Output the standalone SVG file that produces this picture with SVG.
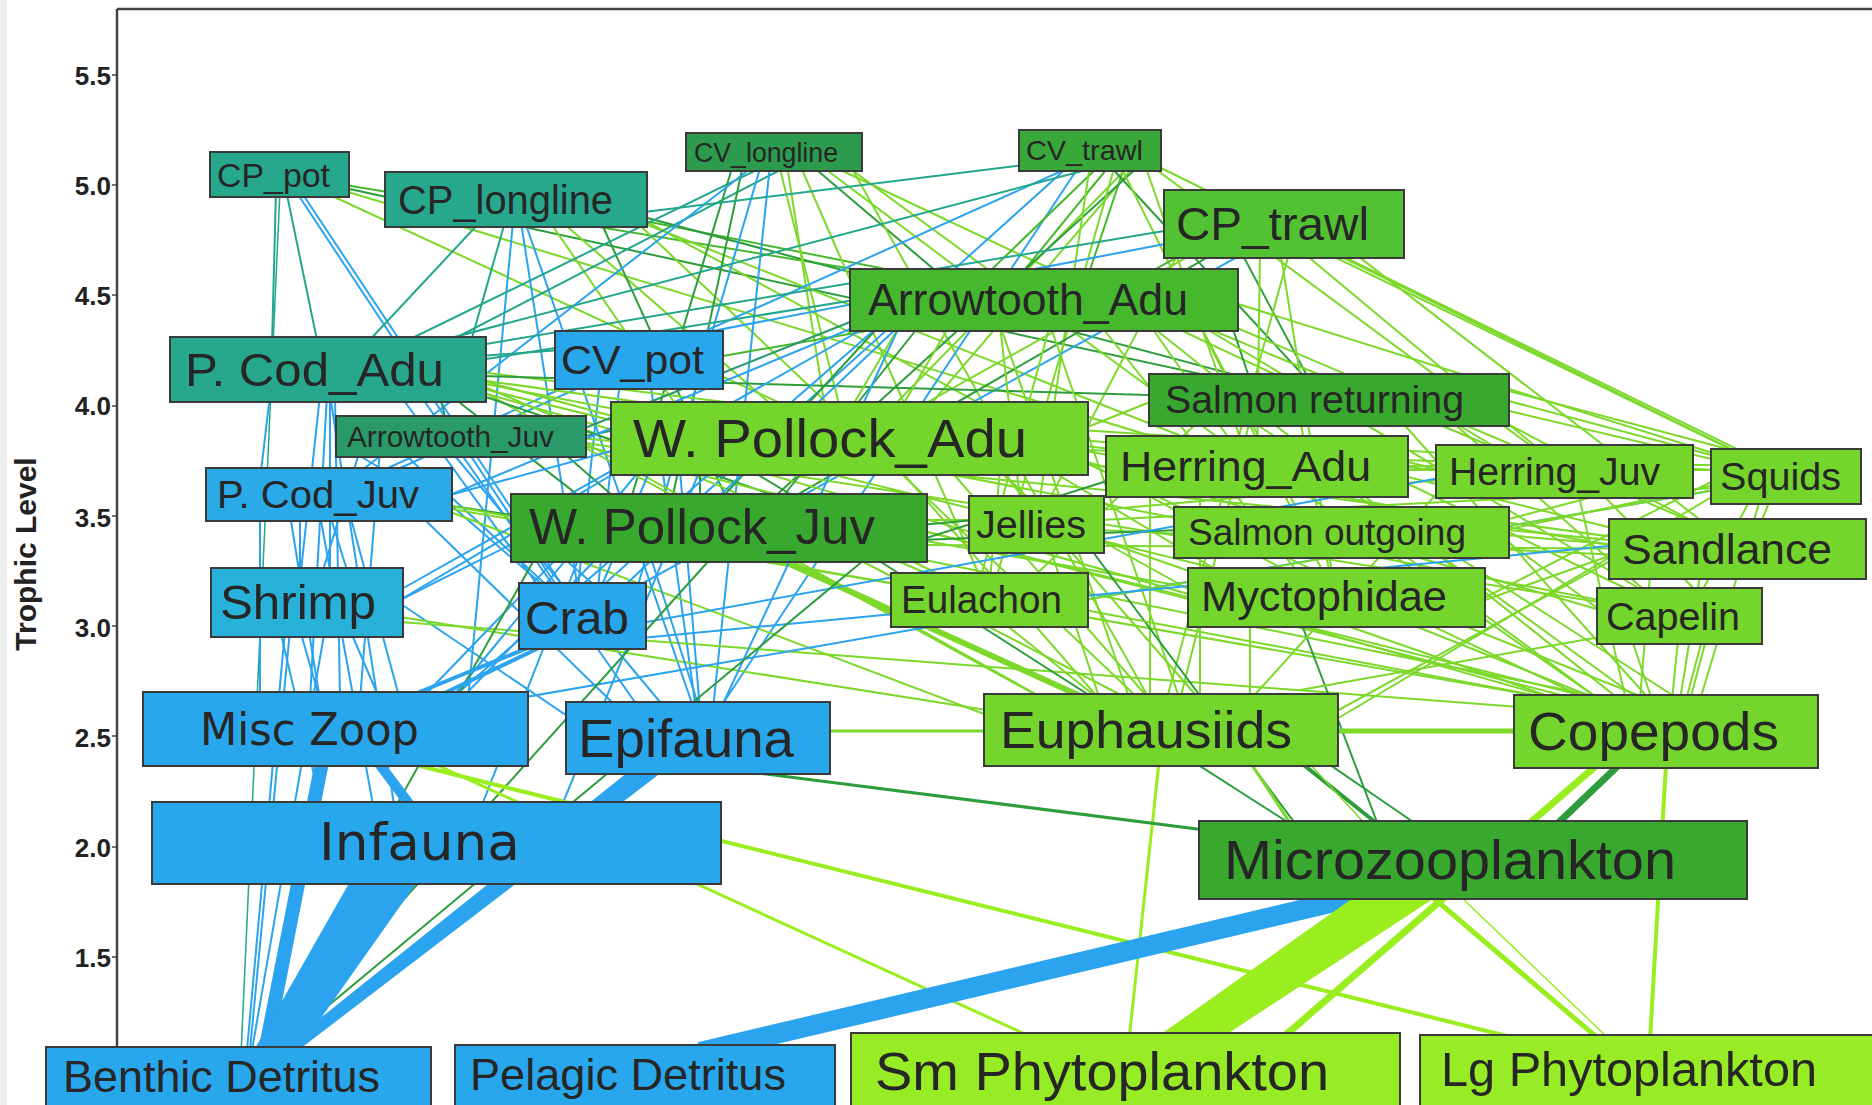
<svg xmlns="http://www.w3.org/2000/svg" width="1872" height="1105" viewBox="0 0 1872 1105">
<style>
.b{stroke:#2ba3ee}.t{stroke:#22a68c}.a{stroke:#2a9a6c}.d{stroke:#2d9d3c}.m{stroke:#46b82c}.l{stroke:#7cd82a}.y{stroke:#9aee20}
.n rect{stroke:#3a3a3a;stroke-width:2}
.n text{font-family:"Liberation Sans",Arial,sans-serif;fill:#262626}
.c-teal{fill:#27a88c}.c-atj{fill:#2a9a6b}.c-cvl{fill:#2d9b4e}.c-cvt{fill:#38a83a}.c-blue{fill:#29a7ec}.c-shr{fill:#28b2da}.c-pcj{fill:#2aabe7}.c-dg{fill:#38a82f}.c-ata{fill:#45b82e}.c-cpt{fill:#52c232}.c-lg{fill:#74d52c}.c-phy{fill:#98ec26}
.tick{font-family:"Liberation Sans",Arial,sans-serif;font-weight:bold;font-size:26px;fill:#222;text-anchor:end}
</style>
<rect x="0" y="0" width="1872" height="1105" fill="#ffffff"/>
<rect x="0" y="0" width="7" height="1105" fill="#eeeeee"/>
<g id="axes" stroke="#444" stroke-width="2.5" fill="none">
<line x1="117" y1="9" x2="1872" y2="9"/>
<line x1="117" y1="9" x2="117" y2="1047"/>
<path d="M112 75H117M112 185H117M112 295H117M112 406H117M112 516H117M112 626H117M112 736H117M112 847H117M112 957H117" stroke-width="1.5"/>
</g>
<g id="tick-labels">
<text class="tick" x="111" y="85">5.5</text>
<text class="tick" x="111" y="195">5.0</text>
<text class="tick" x="111" y="305">4.5</text>
<text class="tick" x="111" y="415">4.0</text>
<text class="tick" x="111" y="527">3.5</text>
<text class="tick" x="111" y="637">3.0</text>
<text class="tick" x="111" y="747">2.5</text>
<text class="tick" x="111" y="857">2.0</text>
<text class="tick" x="111" y="967">1.5</text>
<text transform="translate(36,554) rotate(-90)" text-anchor="middle" font-family="Liberation Sans,Arial,sans-serif" font-weight="bold" font-size="30" fill="#222">Trophic Level</text>
</g>
<g id="connectors" fill="none" stroke-width="2">
<line class="t" x1="276" y1="190" x2="272" y2="345"/>
<line class="t" x1="286" y1="190" x2="318" y2="345"/>
<line class="b" x1="295" y1="190" x2="566" y2="600"/>
<line class="b" x1="300" y1="190" x2="572" y2="600"/>
<line class="l" x1="330" y1="195" x2="860" y2="440"/>
<line class="m" x1="345" y1="185" x2="1040" y2="300"/>
<line class="d" x1="345" y1="188" x2="1320" y2="400"/>
<line class="l" x1="345" y1="191" x2="1250" y2="466"/>
<line class="t" x1="280" y1="190" x2="241" y2="1055" stroke-width="1.5"/>
<line class="t" x1="480" y1="222" x2="365" y2="345"/>
<line class="t" x1="505" y1="222" x2="470" y2="345"/>
<line class="b" x1="513" y1="222" x2="468" y2="700"/>
<line class="b" x1="521" y1="222" x2="582" y2="616"/>
<line class="b" x1="525" y1="222" x2="704" y2="738"/>
<line class="l" x1="550" y1="222" x2="700" y2="440"/>
<line class="l" x1="562" y1="222" x2="812" y2="440"/>
<line class="m" x1="600" y1="212" x2="1040" y2="300"/>
<line class="d" x1="610" y1="208" x2="1329" y2="400"/>
<line class="l" x1="620" y1="214" x2="1257" y2="466"/>
<line class="d" x1="600" y1="220" x2="740" y2="528"/>
<line class="l" x1="640" y1="218" x2="1336" y2="598"/>
<line class="l" x1="630" y1="216" x2="1161" y2="720"/>
<line class="t" x1="767" y1="165" x2="398" y2="345"/>
<line class="t" x1="790" y1="165" x2="442" y2="345"/>
<line class="d" x1="733" y1="165" x2="622" y2="528"/>
<line class="d" x1="743" y1="165" x2="666" y2="528"/>
<line class="b" x1="761" y1="165" x2="629" y2="616"/>
<line class="b" x1="770" y1="165" x2="710" y2="738"/>
<line class="l" x1="779" y1="165" x2="848" y2="440"/>
<line class="l" x1="787" y1="165" x2="830" y2="440"/>
<line class="d" x1="811" y1="165" x2="970" y2="300"/>
<line class="l" x1="820" y1="165" x2="1000" y2="300"/>
<line class="l" x1="830" y1="165" x2="1329" y2="400"/>
<line class="l" x1="845" y1="165" x2="1257" y2="466"/>
<line class="b" x1="755" y1="165" x2="330" y2="495"/>
<line class="l" x1="800" y1="165" x2="990" y2="600"/>
<line class="l" x1="850" y1="165" x2="1161" y2="720"/>
<line class="t" x1="1025" y1="165" x2="620" y2="215"/>
<line class="b" x1="1070" y1="165" x2="569" y2="616"/>
<line class="b" x1="1075" y1="165" x2="340" y2="495"/>
<line class="b" x1="1080" y1="165" x2="700" y2="738"/>
<line class="m" x1="1100" y1="165" x2="960" y2="300"/>
<line class="m" x1="1110" y1="165" x2="1000" y2="300"/>
<line class="m" x1="1125" y1="165" x2="1080" y2="300"/>
<line class="l" x1="1130" y1="165" x2="860" y2="440"/>
<line class="l" x1="1135" y1="165" x2="900" y2="440"/>
<line class="d" x1="1140" y1="165" x2="740" y2="528"/>
<line class="l" x1="1145" y1="165" x2="1250" y2="466"/>
<line class="d" x1="1109" y1="165" x2="1326" y2="400"/>
<line class="l" x1="1150" y1="165" x2="1565" y2="471"/>
<line class="l" x1="1155" y1="165" x2="1786" y2="476"/>
<line class="l" x1="1120" y1="165" x2="1336" y2="598"/>
<line class="l" x1="1115" y1="165" x2="990" y2="600"/>
<line class="t" x1="1105" y1="165" x2="330" y2="370"/>
<line class="l" x1="1090" y1="165" x2="1036" y2="525"/>
<line class="m" x1="1190" y1="250" x2="1100" y2="300"/>
<line class="l" x1="1200" y1="250" x2="860" y2="440"/>
<line class="d" x1="1220" y1="250" x2="740" y2="528"/>
<line class="d" x1="1240" y1="250" x2="1320" y2="400"/>
<line class="l" x1="1260" y1="250" x2="1257" y2="466"/>
<line class="l" x1="1280" y1="250" x2="1336" y2="598"/>
<line class="l" x1="1300" y1="250" x2="1565" y2="471"/>
<line class="l" x1="1320" y1="250" x2="1786" y2="476"/>
<line class="l" x1="1330" y1="250" x2="1800" y2="480"/>
<line class="b" x1="1170" y1="243" x2="640" y2="345"/>
<line class="l" x1="1180" y1="250" x2="1036" y2="525"/>
<line class="l" x1="1290" y1="250" x2="1161" y2="720"/>
<line class="l" x1="1350" y1="250" x2="1738" y2="549"/>
<line class="b" x1="1250" y1="250" x2="583" y2="616"/>
<line class="t" x1="1170" y1="230" x2="330" y2="370"/>
<line class="t" x1="560" y1="350" x2="480" y2="356"/>
<line class="b" x1="600" y1="380" x2="575" y2="616"/>
<line class="b" x1="620" y1="380" x2="595" y2="616"/>
<line class="b" x1="580" y1="380" x2="329" y2="495"/>
<line class="b" x1="650" y1="380" x2="700" y2="738"/>
<line class="m" x1="700" y1="360" x2="1044" y2="300"/>
<line class="b" x1="270" y1="395" x2="260" y2="480"/>
<line class="b" x1="320" y1="395" x2="300" y2="580"/>
<line class="b" x1="330" y1="395" x2="330" y2="580"/>
<line class="b" x1="400" y1="395" x2="560" y2="616"/>
<line class="b" x1="327" y1="395" x2="310" y2="700"/>
<line class="b" x1="335" y1="395" x2="340" y2="700"/>
<line class="b" x1="420" y1="395" x2="660" y2="738"/>
<line class="d" x1="450" y1="395" x2="620" y2="528"/>
<line class="l" x1="480" y1="380" x2="700" y2="440"/>
<line class="a" x1="440" y1="395" x2="450" y2="440"/>
<line class="b" x1="330" y1="395" x2="400" y2="843"/>
<line class="l" x1="480" y1="390" x2="1100" y2="730"/>
<line class="l" x1="480" y1="372" x2="1250" y2="466"/>
<line class="d" x1="480" y1="376" x2="1329" y2="400"/>
<line class="l" x1="480" y1="385" x2="990" y2="600"/>
<line class="l" x1="480" y1="388" x2="1336" y2="598"/>
<line class="l" x1="480" y1="383" x2="1650" y2="610"/>
<line class="l" x1="480" y1="380" x2="1700" y2="549"/>
<line class="d" x1="480" y1="395" x2="870" y2="528"/>
<line class="l" x1="480" y1="392" x2="1560" y2="700"/>
<line class="b" x1="360" y1="450" x2="320" y2="580"/>
<line class="b" x1="380" y1="450" x2="360" y2="700"/>
<line class="b" x1="400" y1="450" x2="580" y2="616"/>
<line class="l" x1="580" y1="440" x2="1100" y2="730"/>
<line class="d" x1="560" y1="450" x2="650" y2="528"/>
<line class="b" x1="350" y1="450" x2="400" y2="480"/>
<line class="l" x1="580" y1="445" x2="1600" y2="700"/>
<line class="l" x1="580" y1="442" x2="1650" y2="610"/>
<line class="l" x1="580" y1="438" x2="1700" y2="549"/>
<line class="b" x1="450" y1="450" x2="690" y2="738"/>
<line class="b" x1="300" y1="515" x2="300" y2="580"/>
<line class="b" x1="330" y1="515" x2="350" y2="580"/>
<line class="b" x1="260" y1="515" x2="260" y2="700"/>
<line class="b" x1="290" y1="515" x2="320" y2="700"/>
<line class="b" x1="350" y1="515" x2="400" y2="700"/>
<line class="b" x1="420" y1="515" x2="620" y2="710"/>
<line class="b" x1="445" y1="500" x2="560" y2="600"/>
<line class="l" x1="445" y1="510" x2="1000" y2="720"/>
<line class="b" x1="320" y1="515" x2="380" y2="843"/>
<line class="d" x1="445" y1="505" x2="600" y2="528"/>
<line class="l" x1="445" y1="505" x2="1560" y2="700"/>
<line class="l" x1="445" y1="508" x2="990" y2="600"/>
<line class="b" x1="260" y1="630" x2="260" y2="700"/>
<line class="b" x1="300" y1="630" x2="320" y2="700"/>
<line class="b" x1="350" y1="630" x2="380" y2="700"/>
<line class="b" x1="280" y1="630" x2="330" y2="843"/>
<line class="b" x1="290" y1="630" x2="250" y2="1050"/>
<line class="b" x1="395" y1="600" x2="600" y2="738"/>
<line class="l" x1="400" y1="617" x2="1050" y2="720"/>
<line class="l" x1="400" y1="622" x2="1560" y2="710"/>
<line class="l" x1="770" y1="555" x2="1100" y2="705" stroke-width="6"/>
<line class="l" x1="850" y1="555" x2="1150" y2="710"/>
<line class="l" x1="920" y1="530" x2="1600" y2="705"/>
<line class="l" x1="900" y1="555" x2="1640" y2="705"/>
<line class="b" x1="560" y1="555" x2="420" y2="700"/>
<line class="b" x1="600" y1="555" x2="460" y2="700"/>
<line class="b" x1="650" y1="555" x2="700" y2="710"/>
<line class="b" x1="560" y1="555" x2="600" y2="590"/>
<line class="b" x1="580" y1="555" x2="480" y2="810"/>
<line class="b" x1="520" y1="540" x2="400" y2="600"/>
<line class="l" x1="920" y1="520" x2="975" y2="520"/>
<line class="l" x1="900" y1="555" x2="950" y2="580"/>
<line class="l" x1="920" y1="540" x2="1250" y2="598"/>
<line class="l" x1="920" y1="545" x2="1700" y2="549"/>
<line class="d" x1="870" y1="555" x2="1300" y2="830"/>
<line class="d" x1="700" y1="470" x2="700" y2="500"/>
<line class="d" x1="750" y1="470" x2="800" y2="500"/>
<line class="l" x1="900" y1="470" x2="1100" y2="700"/>
<line class="l" x1="950" y1="470" x2="1150" y2="700"/>
<line class="l" x1="1000" y1="470" x2="1200" y2="700"/>
<line class="l" x1="1080" y1="460" x2="1600" y2="705"/>
<line class="b" x1="650" y1="470" x2="600" y2="590"/>
<line class="b" x1="620" y1="470" x2="400" y2="600"/>
<line class="b" x1="640" y1="470" x2="450" y2="700"/>
<line class="b" x1="680" y1="470" x2="700" y2="710"/>
<line class="b" x1="615" y1="450" x2="450" y2="495"/>
<line class="a" x1="615" y1="430" x2="580" y2="437"/>
<line class="l" x1="1050" y1="470" x2="1250" y2="590"/>
<line class="l" x1="1080" y1="440" x2="1440" y2="470"/>
<line class="l" x1="1080" y1="460" x2="1600" y2="610"/>
<line class="l" x1="1000" y1="470" x2="990" y2="580"/>
<line class="l" x1="1000" y1="470" x2="1030" y2="500"/>
<line class="l" x1="1080" y1="430" x2="1711" y2="470"/>
<line class="l" x1="1080" y1="450" x2="1609" y2="545"/>
<line class="b" x1="700" y1="470" x2="560" y2="810"/>
<line class="l" x1="900" y1="325" x2="850" y2="410"/>
<line class="l" x1="950" y1="325" x2="900" y2="410"/>
<line class="d" x1="880" y1="325" x2="720" y2="500"/>
<line class="d" x1="920" y1="325" x2="780" y2="500"/>
<line class="t" x1="855" y1="300" x2="480" y2="360"/>
<line class="b" x1="860" y1="325" x2="450" y2="495"/>
<line class="a" x1="855" y1="320" x2="580" y2="430"/>
<line class="b" x1="900" y1="325" x2="620" y2="590"/>
<line class="b" x1="870" y1="325" x2="400" y2="590"/>
<line class="l" x1="1000" y1="325" x2="1130" y2="700"/>
<line class="l" x1="1050" y1="325" x2="1180" y2="700"/>
<line class="l" x1="1200" y1="325" x2="1500" y2="450"/>
<line class="l" x1="1150" y1="325" x2="1230" y2="440"/>
<line class="d" x1="1230" y1="320" x2="1250" y2="380"/>
<line class="l" x1="1200" y1="325" x2="1300" y2="515"/>
<line class="l" x1="1050" y1="325" x2="980" y2="580"/>
<line class="l" x1="1100" y1="325" x2="1300" y2="575"/>
<line class="l" x1="1235" y1="303" x2="1786" y2="476"/>
<line class="l" x1="1200" y1="325" x2="1650" y2="595"/>
<line class="l" x1="1230" y1="325" x2="1700" y2="525"/>
<line class="l" x1="1000" y1="325" x2="1020" y2="500"/>
<line class="l" x1="1150" y1="325" x2="1620" y2="700"/>
<line class="b" x1="880" y1="325" x2="450" y2="700"/>
<line class="b" x1="900" y1="325" x2="720" y2="710"/>
<line class="l" x1="1250" y1="420" x2="1280" y2="440"/>
<line class="l" x1="1450" y1="420" x2="1500" y2="450"/>
<line class="l" x1="1505" y1="390" x2="1750" y2="455"/>
<line class="l" x1="1505" y1="400" x2="1730" y2="460"/>
<line class="l" x1="1250" y1="420" x2="1180" y2="700"/>
<line class="l" x1="1300" y1="420" x2="1330" y2="575"/>
<line class="l" x1="1450" y1="420" x2="1650" y2="595"/>
<line class="l" x1="1500" y1="420" x2="1700" y2="525"/>
<line class="l" x1="1400" y1="420" x2="1650" y2="700"/>
<line class="l" x1="1155" y1="400" x2="1080" y2="430"/>
<line class="l" x1="1200" y1="420" x2="1030" y2="580"/>
<line class="l" x1="1505" y1="410" x2="1800" y2="480"/>
<line class="l" x1="1150" y1="490" x2="1150" y2="700"/>
<line class="l" x1="1200" y1="490" x2="1200" y2="700"/>
<line class="l" x1="1300" y1="490" x2="1600" y2="700"/>
<line class="l" x1="1350" y1="490" x2="1640" y2="700"/>
<line class="d" x1="1110" y1="480" x2="920" y2="540"/>
<line class="l" x1="1400" y1="460" x2="1440" y2="470"/>
<line class="l" x1="1400" y1="480" x2="1650" y2="600"/>
<line class="l" x1="1400" y1="475" x2="1700" y2="550"/>
<line class="l" x1="1400" y1="470" x2="1740" y2="470"/>
<line class="l" x1="1100" y1="540" x2="1560" y2="700"/>
<line class="l" x1="1050" y1="548" x2="1100" y2="700"/>
<line class="d" x1="975" y1="520" x2="920" y2="525"/>
<line class="d" x1="1090" y1="548" x2="1300" y2="830"/>
<line class="l" x1="1100" y1="510" x2="1440" y2="480"/>
<line class="l" x1="1100" y1="540" x2="1190" y2="590"/>
<line class="l" x1="1100" y1="530" x2="1620" y2="555"/>
<line class="l" x1="1200" y1="552" x2="1200" y2="700"/>
<line class="l" x1="1400" y1="552" x2="1600" y2="700"/>
<line class="l" x1="1505" y1="540" x2="1600" y2="610"/>
<line class="l" x1="1505" y1="520" x2="1600" y2="495"/>
<line class="l" x1="1505" y1="535" x2="1620" y2="545"/>
<line class="d" x1="1180" y1="530" x2="920" y2="540"/>
<line class="l" x1="1450" y1="552" x2="1680" y2="700"/>
<line class="b" x1="1715" y1="490" x2="480" y2="705"/>
<line class="l" x1="1715" y1="470" x2="1690" y2="470"/>
<line class="l" x1="1715" y1="465" x2="1400" y2="466"/>
<line class="l" x1="1715" y1="470" x2="1085" y2="450"/>
<line class="l" x1="1715" y1="480" x2="1480" y2="600"/>
<line class="l" x1="1750" y1="500" x2="1700" y2="595"/>
<line class="l" x1="1770" y1="500" x2="1760" y2="525"/>
<line class="l" x1="1760" y1="500" x2="1700" y2="700"/>
<line class="l" x1="1715" y1="495" x2="1335" y2="720"/>
<line class="l" x1="1715" y1="485" x2="1505" y2="530"/>
<line class="l" x1="1715" y1="490" x2="1085" y2="600"/>
<line class="l" x1="1715" y1="488" x2="1100" y2="520"/>
<line class="l" x1="1000" y1="620" x2="1100" y2="700"/>
<line class="l" x1="1085" y1="610" x2="1560" y2="700"/>
<line class="b" x1="1620" y1="545" x2="620" y2="640"/>
<line class="l" x1="1250" y1="620" x2="1250" y2="700"/>
<line class="l" x1="1400" y1="620" x2="1600" y2="700"/>
<line class="l" x1="1450" y1="620" x2="1650" y2="700"/>
<line class="d" x1="1300" y1="620" x2="1380" y2="830"/>
<line class="l" x1="1578" y1="492" x2="1626" y2="700"/>
<line class="l" x1="1440" y1="490" x2="1250" y2="700"/>
<line class="b" x1="1440" y1="478" x2="630" y2="625"/>
<line class="l" x1="1600" y1="492" x2="1700" y2="595"/>
<line class="l" x1="1650" y1="575" x2="1640" y2="700"/>
<line class="l" x1="1700" y1="575" x2="1680" y2="700"/>
<line class="l" x1="1612" y1="560" x2="1335" y2="712"/>
<line class="l" x1="1612" y1="555" x2="1485" y2="600"/>
<line class="l" x1="1632" y1="640" x2="1652" y2="700"/>
<line class="l" x1="1678" y1="640" x2="1672" y2="700"/>
<line class="l" x1="1702" y1="640" x2="1686" y2="700"/>
<line class="l" x1="1706" y1="640" x2="1690" y2="700"/>
<line class="l" x1="1600" y1="637" x2="1300" y2="690"/>
<line class="b" x1="247" y1="1050" x2="285" y2="630"/>
<line class="b" x1="252" y1="1050" x2="330" y2="600"/>
<line class="d" x1="259" y1="1050" x2="552" y2="528"/>
<line class="d" x1="268" y1="1050" x2="714" y2="555"/>
<line class="d" x1="275" y1="1050" x2="870" y2="555"/>
<line class="b" x1="535" y1="645" x2="400" y2="700" stroke-width="4"/>
<line class="b" x1="545" y1="645" x2="430" y2="700" stroke-width="4"/>
<line class="b" x1="365" y1="745" x2="425" y2="825" stroke-width="10"/>
<line class="l" x1="1335" y1="731" x2="1518" y2="731" stroke-width="5"/>
<line class="d" x1="1300" y1="762" x2="1380" y2="826" stroke-width="4"/>
<line class="l" x1="1250" y1="762" x2="1292" y2="826" stroke-width="3"/>
<line class="d" x1="1320" y1="758" x2="1419" y2="826" stroke-width="2"/>
<line class="l" x1="1308" y1="762" x2="1367" y2="826" stroke-width="1.5"/>
<line class="y" x1="1159" y1="762" x2="1129" y2="1040" stroke-width="3"/>
<line class="l" x1="988" y1="731" x2="826" y2="731" stroke-width="3"/>
<line class="d" x1="1620" y1="764" x2="1555" y2="826" stroke-width="7"/>
<line class="y" x1="1598" y1="764" x2="1280" y2="1040" stroke-width="7"/>
<line class="y" x1="1666" y1="764" x2="1650" y2="1040" stroke-width="4"/>
<line class="y" x1="430" y1="762" x2="1038" y2="1040" stroke-width="3"/>
<line class="y" x1="420" y1="766" x2="1523" y2="1040" stroke-width="4"/>
<line class="d" x1="735" y1="770" x2="1205" y2="830" stroke-width="3"/>
<line class="y" x1="1430" y1="895" x2="1600" y2="1040" stroke-width="5"/>
<line class="y" x1="1459" y1="895" x2="1610" y2="1040" stroke-width="1.5"/>
<line class="b" x1="322" y1="762" x2="265" y2="1052" stroke-width="14"/>
<polygon points="628,772 662,772 296,1052 278,1052" fill="#2ba3ee"/>
<polygon points="352,878 420,878 297,1052 253,1052" fill="#2ba3ee"/>
<line class="b" x1="1385" y1="890" x2="700" y2="1052" stroke-width="20"/>
<polygon points="1150,1042 1215,1042 1442,893 1360,893" fill="#9aee20"/>
</g>
<g id="nodes" class="n">
<g id="n-cp-pot"><rect class="c-teal" x="210" y="152" width="139" height="45"/><text x="217" y="187" font-size="33" textLength="113" lengthAdjust="spacingAndGlyphs">CP_pot</text></g>
<g id="n-cp-longline"><rect class="c-teal" x="385" y="172" width="262" height="55"/><text x="398" y="214" font-size="40" textLength="215" lengthAdjust="spacingAndGlyphs">CP_longline</text></g>
<g id="n-cv-longline"><rect class="c-cvl" x="686" y="133" width="176" height="38"/><text x="694" y="162" font-size="27" textLength="144" lengthAdjust="spacingAndGlyphs">CV_longline</text></g>
<g id="n-cv-trawl"><rect class="c-cvt" x="1019" y="130" width="142" height="41"/><text x="1026" y="160" font-size="28" textLength="117" lengthAdjust="spacingAndGlyphs">CV_trawl</text></g>
<g id="n-cp-trawl"><rect class="c-cpt" x="1164" y="190" width="240" height="68"/><text x="1176" y="240" font-size="47" textLength="193" lengthAdjust="spacingAndGlyphs">CP_trawl</text></g>
<g id="n-arrowtooth-adu"><rect class="c-ata" x="850" y="269" width="388" height="62"/><text x="868" y="315" font-size="44" textLength="320" lengthAdjust="spacingAndGlyphs">Arrowtooth_Adu</text></g>
<g id="n-cv-pot"><rect class="c-blue" x="555" y="331" width="168" height="58"/><text x="561" y="374" font-size="41" textLength="143" lengthAdjust="spacingAndGlyphs">CV_pot</text></g>
<g id="n-pcod-adu"><rect class="c-teal" x="170" y="337" width="316" height="65"/><text x="185" y="386" font-size="47" textLength="259" lengthAdjust="spacingAndGlyphs">P. Cod_Adu</text></g>
<g id="n-arrowtooth-juv"><rect class="c-atj" x="336" y="416" width="250" height="41"/><text x="347" y="447" font-size="29" textLength="207" lengthAdjust="spacingAndGlyphs">Arrowtooth_Juv</text></g>
<g id="n-pcod-juv"><rect class="c-pcj" x="206" y="468" width="246" height="53"/><text x="217" y="508" font-size="39" textLength="202" lengthAdjust="spacingAndGlyphs">P. Cod_Juv</text></g>
<g id="n-shrimp"><rect class="c-shr" x="211" y="568" width="192" height="69"/><text x="220" y="619" font-size="48" textLength="156" lengthAdjust="spacingAndGlyphs">Shrimp</text></g>
<g id="n-wpollock-adu"><rect class="c-lg" x="611" y="402" width="477" height="73"/><text x="633" y="457" font-size="54" textLength="394" lengthAdjust="spacingAndGlyphs">W. Pollock_Adu</text></g>
<g id="n-wpollock-juv"><rect class="c-dg" x="511" y="494" width="416" height="68"/><text x="529" y="544" font-size="50" textLength="346" lengthAdjust="spacingAndGlyphs">W. Pollock_Juv</text></g>
<g id="n-crab"><rect class="c-blue" x="519" y="583" width="127" height="66"/><text x="525" y="634" font-size="47" textLength="104" lengthAdjust="spacingAndGlyphs">Crab</text></g>
<g id="n-misc-zoop"><rect class="c-blue" x="143" y="692" width="385" height="74"/><text x="200" y="745" font-size="44" textLength="219" lengthAdjust="spacingAndGlyphs" style="font-family:'DejaVu Sans',sans-serif">Misc Zoop</text></g>
<g id="n-epifauna"><rect class="c-blue" x="566" y="702" width="264" height="72"/><text x="578" y="757" font-size="53" textLength="216" lengthAdjust="spacingAndGlyphs">Epifauna</text></g>
<g id="n-infauna"><rect class="c-blue" x="152" y="802" width="569" height="82"/><text x="319" y="860" font-size="52" textLength="201" lengthAdjust="spacingAndGlyphs" style="font-family:'DejaVu Sans',sans-serif">Infauna</text></g>
<g id="n-benthic-detritus"><rect class="c-blue" x="46" y="1047" width="385" height="70"/><text x="63" y="1092" font-size="44" textLength="317" lengthAdjust="spacingAndGlyphs">Benthic Detritus</text></g>
<g id="n-pelagic-detritus"><rect class="c-blue" x="455" y="1045" width="380" height="72"/><text x="470" y="1090" font-size="44" textLength="316" lengthAdjust="spacingAndGlyphs">Pelagic Detritus</text></g>
<g id="n-sm-phyto"><rect class="c-phy" x="851" y="1033" width="549" height="84"/><text x="875" y="1090" font-size="54" textLength="454" lengthAdjust="spacingAndGlyphs">Sm Phytoplankton</text></g>
<g id="n-lg-phyto"><rect class="c-phy" x="1420" y="1035" width="470" height="82"/><text x="1441" y="1086" font-size="48" textLength="376" lengthAdjust="spacingAndGlyphs">Lg Phytoplankton</text></g>
<g id="n-microzoo"><rect class="c-dg" x="1199" y="821" width="548" height="78"/><text x="1224" y="879" font-size="55" textLength="452" lengthAdjust="spacingAndGlyphs">Microzooplankton</text></g>
<g id="n-euphausiids"><rect class="c-lg" x="984" y="694" width="354" height="72"/><text x="1000" y="748" font-size="52" textLength="292" lengthAdjust="spacingAndGlyphs">Euphausiids</text></g>
<g id="n-copepods"><rect class="c-lg" x="1514" y="695" width="304" height="73"/><text x="1528" y="750" font-size="53" textLength="251" lengthAdjust="spacingAndGlyphs">Copepods</text></g>
<g id="n-salmon-returning"><rect class="c-dg" x="1149" y="374" width="360" height="52"/><text x="1165" y="413" font-size="38" textLength="299" lengthAdjust="spacingAndGlyphs">Salmon returning</text></g>
<g id="n-herring-adu"><rect class="c-lg" x="1106" y="436" width="302" height="61"/><text x="1120" y="481" font-size="43" textLength="251" lengthAdjust="spacingAndGlyphs">Herring_Adu</text></g>
<g id="n-jellies"><rect class="c-lg" x="969" y="496" width="135" height="57"/><text x="976" y="538" font-size="39" textLength="110" lengthAdjust="spacingAndGlyphs">Jellies</text></g>
<g id="n-salmon-outgoing"><rect class="c-lg" x="1174" y="507" width="335" height="51"/><text x="1188" y="545" font-size="36" textLength="278" lengthAdjust="spacingAndGlyphs">Salmon outgoing</text></g>
<g id="n-eulachon"><rect class="c-lg" x="891" y="573" width="197" height="54"/><text x="901" y="613" font-size="38" textLength="161" lengthAdjust="spacingAndGlyphs">Eulachon</text></g>
<g id="n-myctophidae"><rect class="c-lg" x="1188" y="568" width="297" height="59"/><text x="1201" y="611" font-size="42" textLength="246" lengthAdjust="spacingAndGlyphs">Myctophidae</text></g>
<g id="n-herring-juv"><rect class="c-lg" x="1436" y="445" width="257" height="53"/><text x="1449" y="485" font-size="38" textLength="211" lengthAdjust="spacingAndGlyphs">Herring_Juv</text></g>
<g id="n-squids"><rect class="c-lg" x="1711" y="449" width="150" height="55"/><text x="1720" y="490" font-size="39" textLength="121" lengthAdjust="spacingAndGlyphs">Squids</text></g>
<g id="n-sandlance"><rect class="c-lg" x="1609" y="519" width="257" height="60"/><text x="1622" y="564" font-size="43" textLength="210" lengthAdjust="spacingAndGlyphs">Sandlance</text></g>
<g id="n-capelin"><rect class="c-lg" x="1597" y="588" width="165" height="56"/><text x="1606" y="630" font-size="39" textLength="134" lengthAdjust="spacingAndGlyphs">Capelin</text></g>
</g>
</svg>
